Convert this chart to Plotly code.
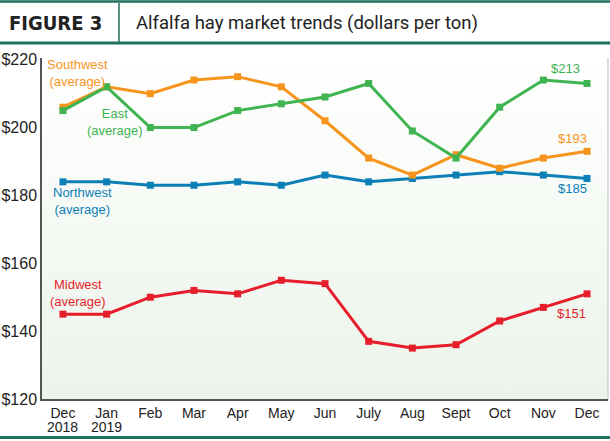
import plotly.graph_objects as go

months = ["Dec", "Jan", "Feb", "Mar", "Apr", "May", "Jun",
          "July", "Aug", "Sept", "Oct", "Nov", "Dec"]
years = ["2018", "2019", "", "", "", "", "", "", "", "", "", "", ""]
southwest = [206, 212, 210, 214, 215, 212, 202, 191, 186, 192, 188, 191, 193]
east = [205, 212, 200, 200, 205, 207, 209, 213, 199, 191, 206, 214, 213]
northwest = [184, 184, 183, 183, 184, 183, 186, 184, 185, 186, 187, 186, 185]
midwest = [145, 145, 150, 152, 151, 155, 154, 137, 135, 136, 143, 147, 151]
y_ticks = [120, 140, 160, 180, 200, 220]
y_tick_labels = ["$120", "$140", "$160", "$180", "$200", "$220"]

C_SW = "#f7941d"
C_E = "#3fb451"
C_NW = "#0c7fb6"
C_MW = "#e61e2c"
C_HDR = "#1f6f5d"

W, H = 610, 441
L, R, T, B = 42, 608, 58, 399
XR = [-0.48, len(months) - 1 + 0.48]
YR = [120, 220.5]


def px(x):
    return (x - L) / (R - L)


def py(y):
    return (B - y) / (B - T)


FONT = "Liberation Sans, Arial, sans-serif"

fig = go.Figure()

# gradient plot background
fig.add_trace(go.Scatter(
    x=[XR[0], XR[1], XR[1], XR[0], XR[0]],
    y=[YR[0], YR[0], YR[1], YR[1], YR[0]],
    mode="none", fill="toself",
    fillgradient=dict(type="vertical",
                      colorscale=[[0, "#ebf4ea"], [0.55, "#f6faf5"], [1, "#ffffff"]]),
    hoverinfo="skip", showlegend=False,
))

xs = list(range(len(months)))
for vals, col in [(northwest, C_NW), (midwest, C_MW), (southwest, C_SW), (east, C_E)]:
    fig.add_trace(go.Scatter(
        x=xs, y=vals, mode="lines+markers",
        line=dict(color=col, width=3),
        marker=dict(symbol="square", size=7, color=col),
        showlegend=False,
    ))

fig.update_layout(
    template="none",
    width=W, height=H,
    margin=dict(l=L, r=W - R, t=T, b=H - B, pad=0),
    paper_bgcolor="white", plot_bgcolor="rgba(0,0,0,0)",
    font=dict(family=FONT, color="#222"),
    xaxis=dict(
        range=XR, tickmode="array", tickvals=xs, ticktext=months,
        showgrid=True, gridcolor="#c9c9c9", gridwidth=1.3,
        showline=True, linecolor="#555", linewidth=1.5,
        ticks="", tickfont=dict(size=14, color="#222", family=FONT),
        ticklabelstandoff=0,
        zeroline=False, fixedrange=True, automargin=False,
    ),
    yaxis=dict(
        range=YR, tickmode="array", tickvals=y_ticks, ticktext=y_tick_labels,
        showgrid=False, showline=True, linecolor="#555", linewidth=1.5,
        ticks="", tickfont=dict(size=16, color="#222", family=FONT),
        ticklabelstandoff=0, zeroline=False, fixedrange=True, automargin=False,
    ),
)

shapes = [
    # right frame of plot
    dict(type="line", xref="paper", yref="paper", x0=1, x1=1, y0=0, y1=1,
         line=dict(color="#c9c9c9", width=1.3)),
    # header lines
    dict(type="line", xref="paper", yref="paper", x0=px(0), x1=px(W), y0=py(1.5), y1=py(1.5),
         line=dict(color=C_HDR, width=2.5)),
    dict(type="line", xref="paper", yref="paper", x0=px(0), x1=px(W), y0=py(43), y1=py(43),
         line=dict(color=C_HDR, width=3)),
    dict(type="line", xref="paper", yref="paper", x0=px(119), x1=px(119), y0=py(3), y1=py(42),
         line=dict(color=C_HDR, width=1.5)),
    dict(type="line", xref="paper", yref="paper", x0=px(0), x1=px(W), y0=py(437.5), y1=py(437.5),
         line=dict(color=C_HDR, width=3)),
]
fig.update_layout(shapes=shapes)

ann = []
ann.append(dict(text="FIGURE 3", xref="paper", yref="paper", x=px(7), y=py(22.5),
                xanchor="left", yanchor="middle", showarrow=False,
                font=dict(family="DejaVu Sans Condensed, DejaVu Sans", size=20, color="#222",
                          weight="bold")))
ann.append(dict(text="Alfalfa hay market trends (dollars per ton)", xref="paper", yref="paper",
                x=px(134), y=py(22.5), xanchor="left", yanchor="middle", showarrow=False,
                font=dict(family="Roboto, Noto Sans, sans-serif", size=18.5, color="#222")))

# second line of the first two month labels (years)
for i, yr in enumerate(years):
    if yr:
        ann.append(dict(text=yr, xref="x", yref="paper", x=xs[i], y=py(427),
                        xanchor="center", yanchor="middle", showarrow=False,
                        font=dict(family=FONT, size=14, color="#222")))

labels = [
    ("Southwest<br>(average)", C_SW, 77, 73),
    ("East<br>(average)", C_E, 115, 122),
    ("Northwest<br>(average)", C_NW, 82, 201),
    ("Midwest<br>(average)", C_MW, 78, 293),
    ("$213", C_E, 565, 69),
    ("$193", C_SW, 572, 138),
    ("$185", C_NW, 572, 188),
    ("$151", C_MW, 571, 313),
]
for t, c, x, y in labels:
    ann.append(dict(text=t, xref="paper", yref="paper", x=px(x), y=py(y),
                    xanchor="center", yanchor="middle", showarrow=False,
                    font=dict(family=FONT, size=13, color=c)))
fig.update_layout(annotations=ann)

fig.write_html("out.html")
